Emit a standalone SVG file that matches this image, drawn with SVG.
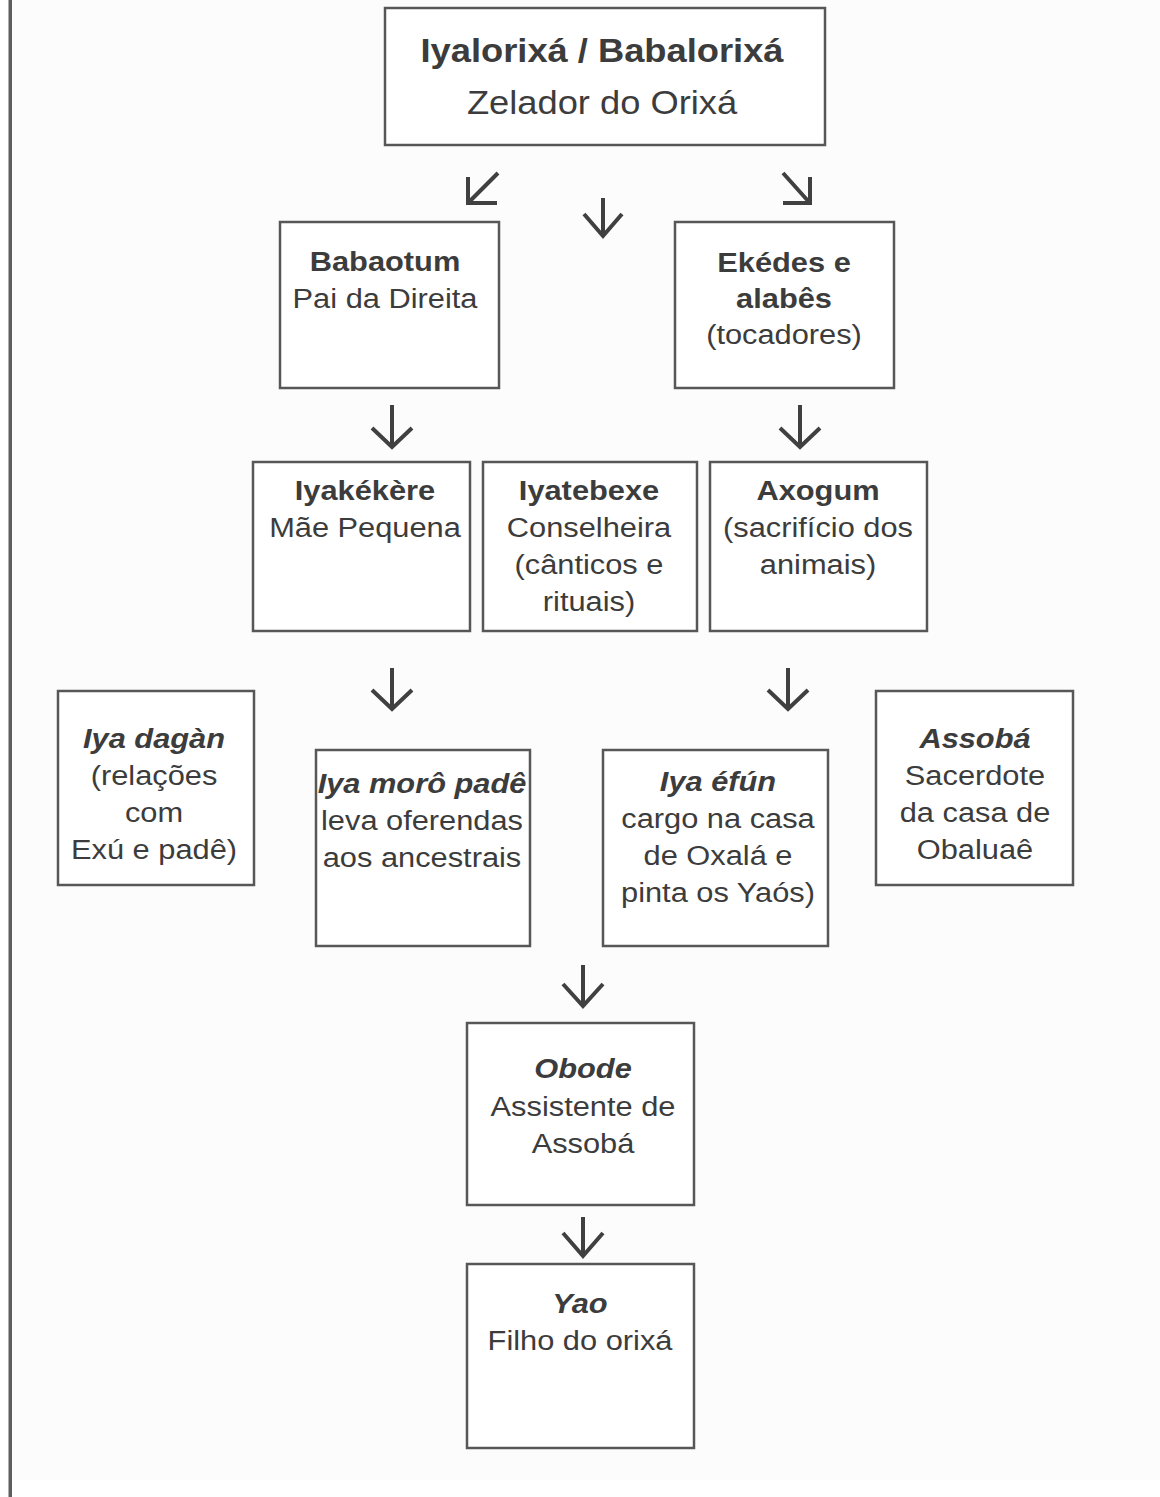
<svg xmlns="http://www.w3.org/2000/svg" width="1160" height="1497" viewBox="0 0 1160 1497">
  <style>
    .box { fill: #ffffff; stroke: #575757; stroke-width: 2.5; }
    .t { font-family: "Liberation Sans", Arial, sans-serif; font-size: 28px; fill: #3c3c3c; text-anchor: middle; }
    .big { font-size: 33px; }
    .b { font-weight: bold; }
    .bi { font-weight: bold; font-style: italic; }
    .arrow { fill: none; stroke: #404040; stroke-width: 4; stroke-linecap: butt; stroke-linejoin: miter; }
  </style>

  <!-- page background and left margin rule -->
  <rect x="0" y="0" width="1160" height="1497" fill="#ffffff"/>
  <rect x="12" y="0" width="1148" height="1480" fill="#fcfcfc"/>
  <rect x="8.5" y="0" width="3.5" height="1497" fill="#5e5e5e"/>

  <g id="connectors">
    <path class="arrow" d="M498,173 L469,202 M468,177 V203 H497"/>
    <path class="arrow" d="M783,173 L809,202 M810,177 V203 H783"/>
    <path class="arrow" d="M603,198 V236 M584,214 L603,236 L622,214"/>
    <path class="arrow" d="M392,405 V447 M372,428 L392,447 L412,428"/>
    <path class="arrow" d="M800,405 V447 M780,428 L800,447 L820,428"/>
    <path class="arrow" d="M392,668 V709 M372,690 L392,709 L412,690"/>
    <path class="arrow" d="M788,668 V709 M768,690 L788,709 L808,690"/>
    <path class="arrow" d="M583,965 V1006 M563,984 L583,1006 L603,984"/>
    <path class="arrow" d="M583,1217 V1256 M563,1233 L583,1256 L603,1233"/>
  </g>

  <g id="node-zelador">
    <rect class="box" x="385" y="8" width="440" height="137"/>
    <text class="t big b" transform="translate(602 62) scale(1.1 1)">Iyalorixá / Babalorixá</text>
    <text class="t big" transform="translate(602 114) scale(1.1 1)">Zelador do Orixá</text>
  </g>

  <g id="node-babaotum">
    <rect class="box" x="280" y="222" width="219" height="166"/>
    <text class="t b" transform="translate(385 271) scale(1.1 1)">Babaotum</text>
    <text class="t" transform="translate(385 308) scale(1.1 1)">Pai da Direita</text>
  </g>

  <g id="node-ekedes">
    <rect class="box" x="675" y="222" width="219" height="166"/>
    <text class="t b" transform="translate(784 272) scale(1.1 1)">Ekédes e</text>
    <text class="t b" transform="translate(784 308) scale(1.1 1)">alabês</text>
    <text class="t" transform="translate(784 344) scale(1.1 1)">(tocadores)</text>
  </g>

  <g id="node-iyakekere">
    <rect class="box" x="253" y="462" width="217" height="169"/>
    <text class="t b" transform="translate(365 500) scale(1.1 1)">Iyakékère</text>
    <text class="t" transform="translate(365 537) scale(1.1 1)">Mãe Pequena</text>
  </g>

  <g id="node-iyatebexe">
    <rect class="box" x="483" y="462" width="214" height="169"/>
    <text class="t b" transform="translate(589 500) scale(1.1 1)">Iyatebexe</text>
    <text class="t" transform="translate(589 537) scale(1.1 1)">Conselheira</text>
    <text class="t" transform="translate(589 574) scale(1.1 1)">(cânticos e</text>
    <text class="t" transform="translate(589 611) scale(1.1 1)">rituais)</text>
  </g>

  <g id="node-axogum">
    <rect class="box" x="710" y="462" width="217" height="169"/>
    <text class="t b" transform="translate(818 500) scale(1.1 1)">Axogum</text>
    <text class="t" transform="translate(818 537) scale(1.1 1)">(sacrifício dos</text>
    <text class="t" transform="translate(818 574) scale(1.1 1)">animais)</text>
  </g>

  <g id="node-iya-dagan">
    <rect class="box" x="58" y="691" width="196" height="194"/>
    <text class="t bi" transform="translate(154 748) scale(1.1 1)">Iya dagàn</text>
    <text class="t" transform="translate(154 785) scale(1.1 1)">(relações</text>
    <text class="t" transform="translate(154 822) scale(1.1 1)">com</text>
    <text class="t" transform="translate(154 859) scale(1.1 1)">Exú e padê)</text>
  </g>

  <g id="node-iya-moro-pade">
    <rect class="box" x="316" y="750" width="214" height="196"/>
    <text class="t bi" transform="translate(422 793) scale(1.1 1)">Iya morô padê</text>
    <text class="t" transform="translate(422 830) scale(1.1 1)">leva oferendas</text>
    <text class="t" transform="translate(422 867) scale(1.1 1)">aos ancestrais</text>
  </g>

  <g id="node-iya-efun">
    <rect class="box" x="603" y="750" width="225" height="196"/>
    <text class="t bi" transform="translate(718 791) scale(1.1 1)">Iya éfún</text>
    <text class="t" transform="translate(718 828) scale(1.1 1)">cargo na casa</text>
    <text class="t" transform="translate(718 865) scale(1.1 1)">de Oxalá e</text>
    <text class="t" transform="translate(718 902) scale(1.1 1)">pinta os Yaós)</text>
  </g>

  <g id="node-assoba">
    <rect class="box" x="876" y="691" width="197" height="194"/>
    <text class="t bi" transform="translate(975 748) scale(1.1 1)">Assobá</text>
    <text class="t" transform="translate(975 785) scale(1.1 1)">Sacerdote</text>
    <text class="t" transform="translate(975 822) scale(1.1 1)">da casa de</text>
    <text class="t" transform="translate(975 859) scale(1.1 1)">Obaluaê</text>
  </g>

  <g id="node-obode">
    <rect class="box" x="467" y="1023" width="227" height="182"/>
    <text class="t bi" transform="translate(583 1078) scale(1.1 1)">Obode</text>
    <text class="t" transform="translate(583 1116) scale(1.1 1)">Assistente de</text>
    <text class="t" transform="translate(583 1153) scale(1.1 1)">Assobá</text>
  </g>

  <g id="node-yao">
    <rect class="box" x="467" y="1264" width="227" height="184"/>
    <text class="t bi" transform="translate(580 1313) scale(1.1 1)">Yao</text>
    <text class="t" transform="translate(580 1350) scale(1.1 1)">Filho do orixá</text>
  </g>
</svg>
